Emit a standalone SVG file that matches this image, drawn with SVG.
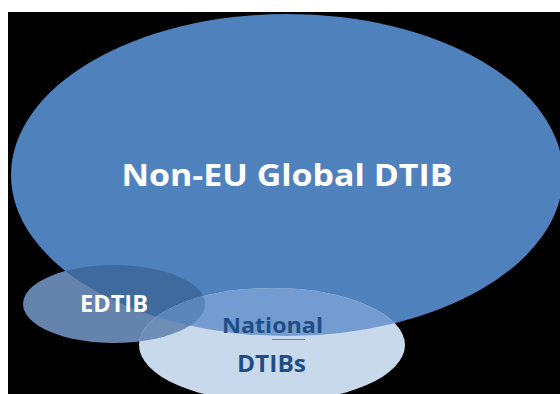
<svg xmlns="http://www.w3.org/2000/svg" xmlns:xlink="http://www.w3.org/1999/xlink" width="560" height="394" viewBox="0 0 560 394">
<style>
.lbl{font-family:"Open Sans","Liberation Sans",sans-serif;font-weight:bold;text-anchor:middle}
.w{fill:#ffffff}
.d{fill:#1F4E86}
</style>
<defs>
<ellipse id="eBig" cx="287" cy="175" rx="276" ry="161"/>
<ellipse id="eEd" cx="114" cy="304" rx="91" ry="39"/>
<ellipse id="eNat" cx="272" cy="345" rx="133" ry="57"/>
<clipPath id="cBig"><use xlink:href="#eBig"/></clipPath>
<clipPath id="cEd"><use xlink:href="#eEd"/></clipPath>
</defs>
<rect x="0" y="0" width="560" height="394" fill="#ffffff"/>
<rect x="8" y="12" width="552" height="382" fill="#000000"/>
<g id="global">
<use xlink:href="#eBig" fill="#4F81BD"/>
</g>
<g id="edtib">
<use xlink:href="#eEd" fill="#6483AD"/>
<use xlink:href="#eEd" fill="#3E6A9E" clip-path="url(#cBig)"/>
</g>
<g id="national">
<use xlink:href="#eNat" fill="#C9D9EC"/>
<use xlink:href="#eNat" fill="#759CD0" clip-path="url(#cBig)"/>
<use xlink:href="#eNat" fill="#6E8EB8" clip-path="url(#cEd)"/>
<g clip-path="url(#cBig)"><use xlink:href="#eNat" fill="#5B86BC" clip-path="url(#cEd)"/></g>
</g>
<g id="labels">
<text class="lbl w" x="287" y="186" font-size="31" textLength="331" lengthAdjust="spacingAndGlyphs">Non-EU Global DTIB</text>
<text class="lbl w" x="114" y="312" font-size="23" textLength="68" lengthAdjust="spacingAndGlyphs">EDTIB</text>
<text class="lbl d" x="272.5" y="333" font-size="21" textLength="101" lengthAdjust="spacingAndGlyphs">National</text>
<line x1="272" y1="339.5" x2="305" y2="339.5" stroke="#7A7F88" stroke-width="1"/>
<text class="lbl d" x="271.5" y="372" font-size="24" textLength="69" lengthAdjust="spacingAndGlyphs">DTIBs</text>
</g>
</svg>
